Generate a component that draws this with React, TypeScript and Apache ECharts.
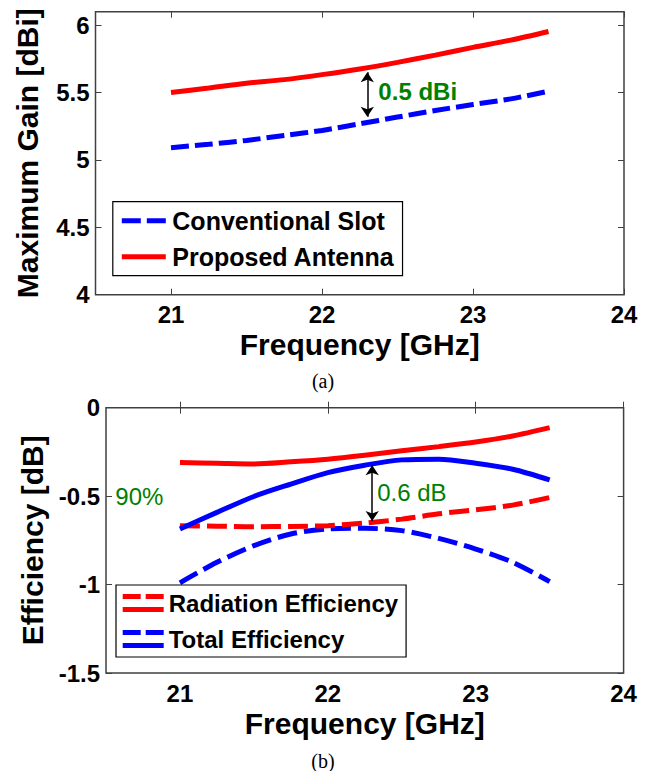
import React, { useEffect, useRef } from 'react';
import * as echarts from 'echarts';

const FONT = 'Arial, "Liberation Sans", Helvetica, sans-serif';

// ---- data ----
const freq = [21, 21.25, 21.5, 21.75, 22, 22.25, 22.5, 22.75, 23, 23.25, 23.5];
const gainConventional = [5.091, 5.116, 5.145, 5.182, 5.219, 5.268, 5.318, 5.367, 5.411, 5.453, 5.51];
const gainProposed = [5.5, 5.534, 5.569, 5.596, 5.633, 5.675, 5.724, 5.778, 5.835, 5.889, 5.953];
const radEffConventional = [-0.667, -0.67, -0.673, -0.671, -0.667, -0.652, -0.63, -0.6, -0.577, -0.551, -0.508];
const radEffProposed = [-0.31, -0.314, -0.318, -0.306, -0.291, -0.269, -0.244, -0.22, -0.194, -0.16, -0.113];
const totEffConventional = [-0.99, -0.874, -0.78, -0.714, -0.686, -0.682, -0.695, -0.739, -0.799, -0.874, -0.983];
const totEffProposed = [-0.686, -0.592, -0.502, -0.432, -0.367, -0.325, -0.295, -0.291, -0.314, -0.348, -0.408];

const xTicks = [21, 22, 23, 24];
const gainTicks = [4, 4.5, 5, 5.5, 6];
const effTicks = [-1.5, -1, -0.5, 0];

// annotations: [x, yTop, yBottom] and [x, y, text]
const gainArrow = [22.3, 5.65, 5.32];
const gainNote: [number, number, string] = [22.37, 5.51, '0.5 dBi'];
const effArrow = [22.3, -0.325, -0.64];
const effNote: [number, number, string] = [22.33, -0.478, '0.6 dB'];
const refNote: [number, number, string] = [20.56, -0.5, '90%'];

const RED = '#ff0000';
const BLUE = '#0000ff';
const GREEN = '#008000';
const FRAME = '#404040';

const pts = (ys: number[]) => freq.map((f, i) => [f, ys[i]]);

const tickStyle = { inside: true, length: 6, lineStyle: { color: FRAME, width: 1 } };
const labelStyle = { fontSize: 24, fontWeight: 'bold', color: '#000', fontFamily: FONT };
const nameStyle = { fontSize: 30, fontWeight: 'bold', color: '#000', fontFamily: FONT };

function xAxes(gridIndex: number) {
  return [
    {
      gridIndex, type: 'value', min: 20.5, max: 24, position: 'bottom',
      axisLine: { show: false }, splitLine: { show: false },
      axisTick: { ...tickStyle, customValues: xTicks },
      axisLabel: { ...labelStyle, margin: 8, customValues: xTicks },
      name: 'Frequency [GHz]', nameLocation: 'middle', nameGap: 35, nameTextStyle: nameStyle,
    },
    {
      gridIndex, type: 'value', min: 20.5, max: 24, position: 'top',
      axisLine: { show: false }, splitLine: { show: false },
      axisTick: { ...tickStyle, customValues: xTicks },
      axisLabel: { show: false },
    },
  ];
}

function yAxes(gridIndex: number, min: number, max: number, ticks: number[], name: string, gap: number) {
  return [
    {
      gridIndex, type: 'value', min, max, position: 'left',
      axisLine: { show: false }, splitLine: { show: false },
      axisTick: { ...tickStyle, customValues: ticks },
      axisLabel: { ...labelStyle, margin: 6, customValues: ticks },
      name, nameLocation: 'middle', nameRotate: 90, nameGap: gap, nameTextStyle: nameStyle,
    },
    {
      gridIndex, type: 'value', min, max, position: 'right',
      axisLine: { show: false }, splitLine: { show: false },
      axisTick: { ...tickStyle, customValues: ticks },
      axisLabel: { show: false },
    },
  ];
}

function arrow(a: number[]) {
  return {
    silent: true,
    symbol: ['arrow', 'arrow'],
    symbolSize: 10,
    label: { show: false },
    lineStyle: { color: '#000', width: 1.5, type: 'solid' },
    data: [[{ coord: [a[0], a[1]] }, { coord: [a[0], a[2]] }]],
  };
}

function note(n: [number, number, string], bold: boolean) {
  return {
    coord: [n[0], n[1]],
    symbol: 'circle',
    symbolSize: 1,
    itemStyle: { color: 'rgba(0,0,0,0)' },
    label: {
      show: true, position: 'right', distance: 0, formatter: n[2],
      color: GREEN, fontSize: 24, fontWeight: bold ? 'bold' : 'normal', fontFamily: FONT,
    },
  };
}

const DASH_ICON = 'path://M0,0h19v5h-19zM25,0h19v5h-19z';
const SOLID_ICON = 'path://M0,0h44v5h-44z';
const PAIR_ICON = 'path://M0,0h18v5h-18zM23,0h18v5h-18zM0,13h41v5h-41z';

const legendBase = {
  orient: 'vertical',
  backgroundColor: '#fff',
  borderColor: '#000',
  borderWidth: 1.2,
  itemGap: 10,
  itemStyle: { borderWidth: 0 },
  selectedMode: false,
};

const option: any = {
  animation: false,
  backgroundColor: '#fff',
  grid: [
    { left: 95.5, right: 26, top: 11.7, height: 283, show: true, borderColor: FRAME, borderWidth: 1.5, backgroundColor: 'rgba(0,0,0,0)' },
    { left: 106, right: 26.4, top: 407.7, height: 265.3, show: true, borderColor: FRAME, borderWidth: 1.5, backgroundColor: 'rgba(0,0,0,0)' },
  ],
  xAxis: [...xAxes(0), ...xAxes(1)],
  yAxis: [
    ...yAxes(0, 4, 6.1, gainTicks, 'Maximum Gain [dBi]', 53),
    ...yAxes(1, -1.5, 0, effTicks, 'Efficiency [dB]', 56),
  ],
  legend: [
    {
      ...legendBase,
      left: 112.8, top: 201.7,
      padding: [6, 8, 6, 9],
      itemWidth: 47, itemHeight: 5,
      textStyle: { fontSize: 25, fontWeight: 'bold', color: '#000', fontFamily: FONT, lineHeight: 26 },
      data: [
        { name: 'Conventional Slot', icon: DASH_ICON },
        { name: 'Proposed Antenna', icon: SOLID_ICON },
      ],
    },
    {
      ...legendBase,
      left: 116, top: 585,
      padding: [5, 8, 5, 6.7],
      itemWidth: 41, itemHeight: 18,
      textStyle: { fontSize: 24, fontWeight: 'bold', color: '#000', fontFamily: FONT, lineHeight: 26 },
      data: [
        { name: 'Radiation Efficiency', icon: PAIR_ICON },
        { name: 'Total Efficiency', icon: PAIR_ICON },
      ],
    },
  ],
  graphic: [
    { type: 'text', x: 323, y: 381, style: { text: '(a)', font: '20px "Liberation Serif", "Times New Roman", serif', fill: '#000', textAlign: 'center', textVerticalAlign: 'middle' } },
    { type: 'text', x: 323, y: 761, style: { text: '(b)', font: '20px "Liberation Serif", "Times New Roman", serif', fill: '#000', textAlign: 'center', textVerticalAlign: 'middle' } },
  ],
  series: [
    {
      name: 'Conventional Slot', type: 'line', xAxisIndex: 0, yAxisIndex: 0,
      data: pts(gainConventional), smooth: 0.3, showSymbol: false, color: BLUE,
      lineStyle: { color: BLUE, width: 5, type: [18, 6], cap: 'butt' },
    },
    {
      name: 'Proposed Antenna', type: 'line', xAxisIndex: 0, yAxisIndex: 0,
      data: pts(gainProposed), smooth: 0.3, showSymbol: false, color: RED,
      lineStyle: { color: RED, width: 5, type: 'solid' },
      markLine: arrow(gainArrow),
      markPoint: { silent: true, data: [note(gainNote, true)] },
    },
    {
      name: 'Total Efficiency', type: 'line', xAxisIndex: 2, yAxisIndex: 2,
      data: pts(totEffConventional), smooth: 0.3, showSymbol: false, color: BLUE,
      lineStyle: { color: BLUE, width: 5, type: [20, 7], cap: 'butt' },
    },
    {
      name: 'Radiation Efficiency', type: 'line', xAxisIndex: 2, yAxisIndex: 2,
      data: pts(radEffConventional), smooth: 0.3, showSymbol: false, color: RED,
      lineStyle: { color: RED, width: 5, type: [20, 7], cap: 'butt' },
    },
    {
      name: 'Radiation Efficiency', type: 'line', xAxisIndex: 2, yAxisIndex: 2,
      data: pts(radEffProposed), smooth: 0.3, showSymbol: false, color: RED,
      lineStyle: { color: RED, width: 5, type: 'solid' },
    },
    {
      name: 'Total Efficiency', type: 'line', xAxisIndex: 2, yAxisIndex: 2,
      data: pts(totEffProposed), smooth: 0.3, showSymbol: false, color: BLUE,
      lineStyle: { color: BLUE, width: 5, type: 'solid' },
      markLine: arrow(effArrow),
      markPoint: { silent: true, data: [note(effNote, false), note(refNote, false)] },
    },
  ],
};

export default function App() {
  const ref = useRef<HTMLDivElement>(null);
  useEffect(() => {
    document.body.style.margin = '0';
    const chart = echarts.init(ref.current!, null, { renderer: 'svg' });
    chart.setOption(option);
    return () => chart.dispose();
  }, []);
  return <div ref={ref} style={{ width: 650, height: 771 }} />;
}
